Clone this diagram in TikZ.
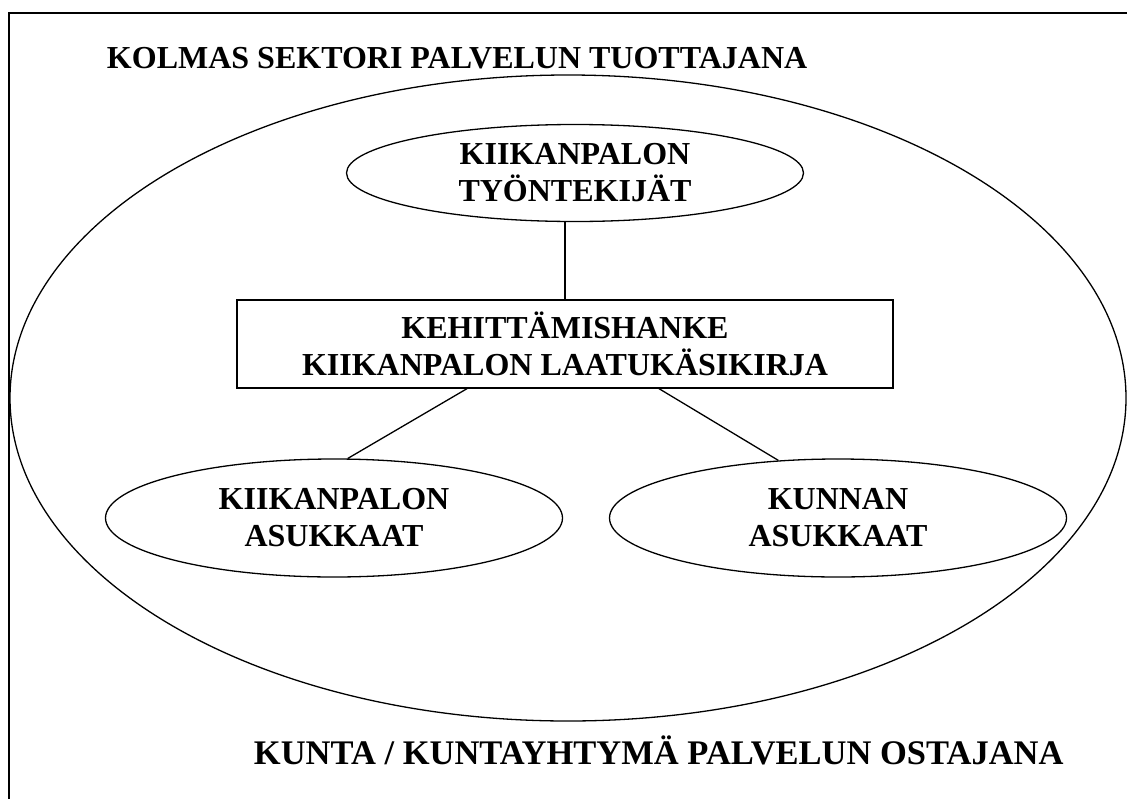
\documentclass[tikz,border=0pt]{standalone}
\usepackage{fontspec}
\setmainfont{Liberation Serif}
\usetikzlibrary{shapes.geometric}

\begin{document}
\begin{tikzpicture}[x=1pt,y=-1pt,line width=1.3pt,
  every node/.style={font=\bfseries\fontsize{32}{37}\selectfont,align=center},
  oval/.style={draw,ellipse,inner sep=0pt,minimum width=457,minimum height=#1},
  hankebox/.style={draw,rectangle,inner sep=0pt,minimum width=656,minimum height=88}]
\useasboundingbox (0,0) rectangle (1127,798);
\clip (0,0) rectangle (1127,798);
\draw[line width=1.6pt] (9,13) rectangle (1140,810);

% sector and buyer
\node[anchor=base west] (kolmas) at (103,68) {KOLMAS SEKTORI PALVELUN TUOTTAJANA};
\node[draw,ellipse,inner sep=0pt,minimum width=1116,minimum height=646] (sektori) at (568,398) {};
\node[anchor=base west,font=\bfseries\fontsize{34.5}{40}\selectfont] (kunta) at (250,764) {KUNTA / KUNTAYHTYMÄ PALVELUN OSTAJANA};

\node[oval=97] (tyontekijat) at (575,173) {KIIKANPALON\\TYÖNTEKIJÄT};
\node[hankebox] (hanke) at (565,344) {KEHITTÄMISHANKE\\KIIKANPALON LAATUKÄSIKIRJA};
\node[oval=118] (kasukkaat) at (334,518) {KIIKANPALON\\ASUKKAAT};
\node[oval=118] (kunasukkaat) at (838,518) {KUNNAN\\ASUKKAAT};

\draw (hanke.north) -- (hanke.north |- tyontekijat.south);
\draw ([xshift=-98pt]hanke.south) -- (kasukkaat.77);
\draw ([xshift=94pt]hanke.south) -- (kunasukkaat.136);
%\draw (tyontekijat) -- (sektori.north);
\end{tikzpicture}
\end{document}
